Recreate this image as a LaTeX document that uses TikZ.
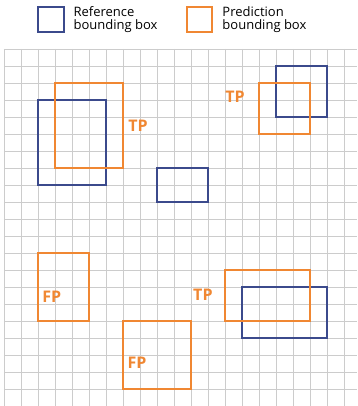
\documentclass[tikz,border=0pt]{standalone}
\usepackage{fontspec}
\setmainfont{Open Sans}
\definecolor{refblue}{RGB}{59,74,140}
\definecolor{predorange}{RGB}{240,135,50}
\begin{document}
\begin{tikzpicture}[x=17pt,y=-17pt,
    refbox/.style={draw=refblue,line width=2pt},
    predbox/.style={draw=predorange,line width=2pt},
    tag/.style={text=predorange,font=\fontsize{16}{16}\selectfont\bfseries,inner sep=0pt},
    legendtext/.style={font=\fontsize{13}{13.5}\selectfont,align=left,anchor=west,inner sep=0pt}]
\useasboundingbox (-4/17,-49/17) rectangle (353/17,21);
% grid
\foreach \x in {0,...,20}{
    \draw[gray!40,line width=0.8pt] (\x,0)--(\x,21);
}
\foreach \y in {0,...,21}{
    \draw[gray!40,line width=0.8pt] (0,\y)--(353/17,\y);
}
% legend
\draw[refbox] (2,-2.48) rectangle (3.5,-0.98);
\node[legendtext] (reflegend) at (4.08,-1.74) {Reference\\bounding box};
\draw[predbox] (10.75,-2.48) rectangle (12.25,-0.98);
\node[legendtext] (predlegend) at (12.84,-1.74) {Prediction\\bounding box};
% reference boxes
\draw[refbox] (2,3) rectangle (6,8);
\draw[refbox] (9,7) rectangle (12,9);
\draw[refbox] (16,1) rectangle (19,4);
\draw[refbox] (14,14) rectangle (19,17);
% prediction boxes
\draw[predbox] (3,2) rectangle (7,7);
\draw[predbox] (15,2) rectangle (18,5);
\draw[predbox] (2,12) rectangle (5,16);
\draw[predbox] (7,16) rectangle (11,20);
\draw[predbox] (13,13) rectangle (18,16);
% labels
\node[tag] (tpleft) at (7.88,4.53) {TP};
\node[tag] (tptop) at (13.59,2.82) {TP};
\node[tag] (fpleft) at (2.81,14.59) {FP};
\node[tag] (fpbottom) at (7.82,18.47) {FP};
\node[tag] (tpright) at (11.7,14.47) {TP};
\end{tikzpicture}
\end{document}
